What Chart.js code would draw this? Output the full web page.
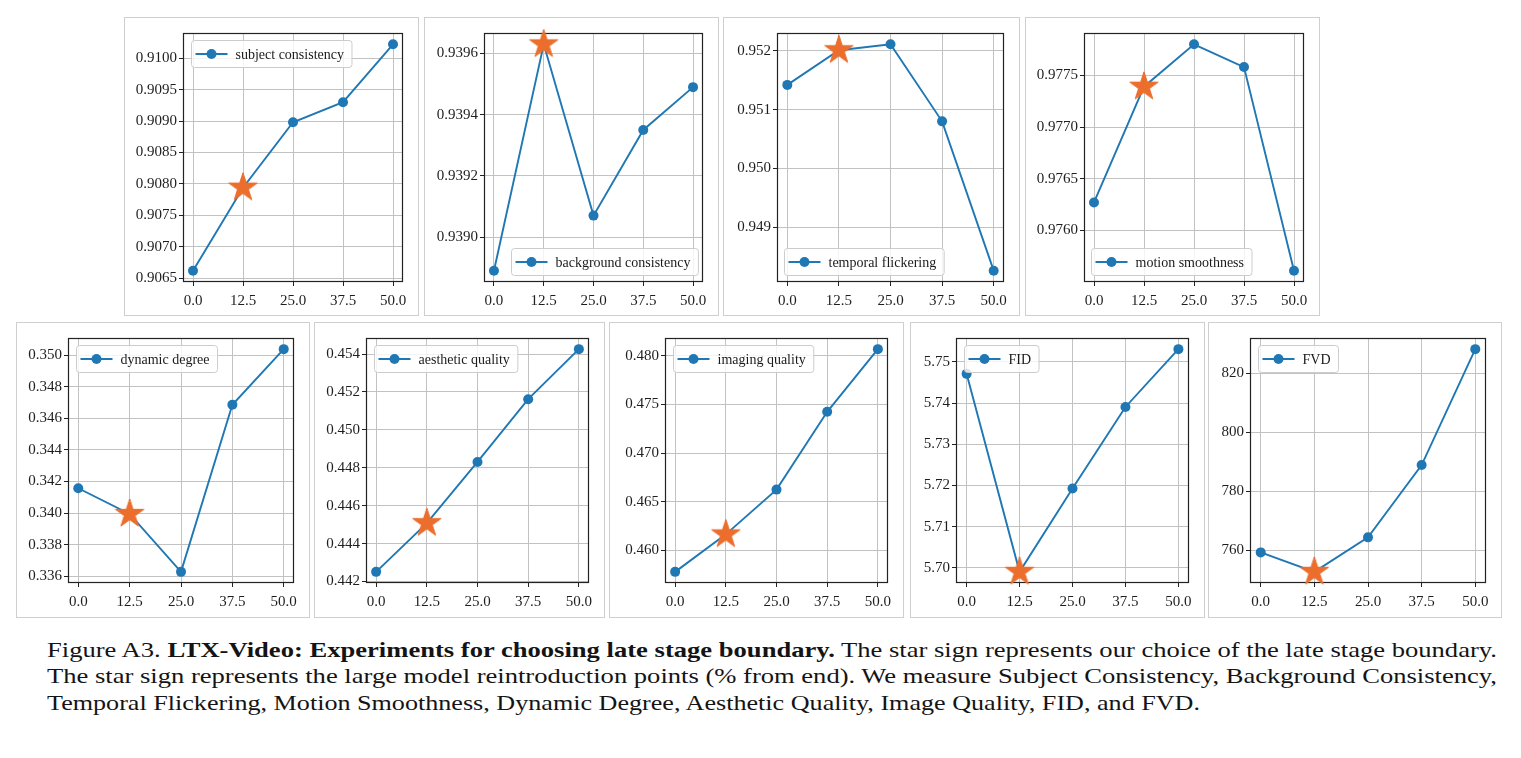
<!DOCTYPE html>
<html><head><meta charset="utf-8">
<script src="https://cdn.jsdelivr.net/npm/chart.js@4.4.0/dist/chart.umd.min.js"></script>
<style>
html,body{margin:0;padding:0;background:#fff;}
body{width:1521px;height:758px;position:relative;overflow:hidden;font-family:"Liberation Serif","Times New Roman",serif;}
.frame{position:absolute;border:1px solid #cfcfcf;box-sizing:border-box;}
canvas.c{position:absolute;}
.ln{position:absolute;left:47px;white-space:nowrap;transform-origin:0 0;font-size:22px;line-height:24px;color:#141414;display:inline-block;}
</style></head>
<body>
<div class="ln" id="l1" style="top:637.5px">Figure A3. <b>LTX-Video: Experiments for choosing late stage boundary.</b> The star sign represents our choice of the late stage boundary.</div>
<div class="ln" id="l2" style="top:664px">The star sign represents the large model reintroduction points (% from end). We measure Subject Consistency, Background Consistency,</div>
<div class="ln" id="l3" style="top:690.5px">Temporal Flickering, Motion Smoothness, Dynamic Degree, Aesthetic Quality, Image Quality, FID, and FVD.</div>
<script>
// ---- data ----
const xValues = [0, 12.5, 25, 37.5, 50];
const xTickLabels = ['0.0', '12.5', '25.0', '37.5', '50.0'];
const starX = 12.5;

const subjectConsistency    = [0.90662, 0.90794, 0.90898, 0.90930, 0.91022];
const backgroundConsistency = [0.93889, 0.93963, 0.93907, 0.93935, 0.93949];
const temporalFlickering    = [0.95142, 0.95201, 0.95211, 0.95080, 0.94826];
const motionSmoothness      = [0.97627, 0.97739, 0.97780, 0.97758, 0.97561];
const dynamicDegree         = [0.34157, 0.33994, 0.33627, 0.34686, 0.35039];
const aestheticQuality      = [0.44251, 0.44508, 0.44831, 0.45162, 0.45426];
const imagingQuality        = [0.45779, 0.46164, 0.46624, 0.47423, 0.48067];
const fidValues             = [5.74708, 5.69905, 5.71929, 5.73905, 5.75308];
const fvdValues             = [759.3, 752.7, 764.4, 788.9, 828.2];

const yTicksSubject    = ['0.9065','0.9070','0.9075','0.9080','0.9085','0.9090','0.9095','0.9100'];
const yTicksBackground = ['0.9390','0.9392','0.9394','0.9396'];
const yTicksTemporal   = ['0.949','0.950','0.951','0.952'];
const yTicksMotion     = ['0.9760','0.9765','0.9770','0.9775'];
const yTicksDynamic    = ['0.336','0.338','0.340','0.342','0.344','0.346','0.348','0.350'];
const yTicksAesthetic  = ['0.442','0.444','0.446','0.448','0.450','0.452','0.454'];
const yTicksImaging    = ['0.460','0.465','0.470','0.475','0.480'];
const yTicksFID        = ['5.70','5.71','5.72','5.73','5.74','5.75'];
const yTicksFVD        = ['760','780','800','820'];

const seriesNames = ['subject consistency','background consistency','temporal flickering','motion smoothness',
  'dynamic degree','aesthetic quality','imaging quality','FID','FVD'];

// ---- caption fitting ----
(function(){
  const fit = (id, width) => {
    const el = document.getElementById(id);
    el.style.transform = 'scaleX(' + (width / el.getBoundingClientRect().width) + ')';
  };
  fit('l1', 1450); fit('l2', 1450); fit('l3', 1153);
})();

// ---- layout / style ----
const C0 = '#1f77b4';
const STAR = '#eb6e2d';
const GRID = '#c2c2c2';
const panels = [
  {data: subjectConsistency,    ticks: yTicksSubject,    legend:'ul', frame:[124,17,419,316],  plot:[183,30,407,282]},
  {data: backgroundConsistency, ticks: yTicksBackground, legend:'lr', frame:[424,17,719,316],  plot:[484,30,707,282]},
  {data: temporalFlickering,    ticks: yTicksTemporal,   legend:'ll', frame:[723,17,1020,316], plot:[777,30,1008,282]},
  {data: motionSmoothness,      ticks: yTicksMotion,     legend:'ll', frame:[1025,17,1320,316],plot:[1084,30,1308,282]},
  {data: dynamicDegree,         ticks: yTicksDynamic,    legend:'ul', frame:[16,322,310,618],  plot:[68,333,302,583]},
  {data: aestheticQuality,      ticks: yTicksAesthetic,  legend:'ul', frame:[314,322,605,618], plot:[366,333,596,583]},
  {data: imagingQuality,        ticks: yTicksImaging,    legend:'ul', frame:[609,322,904,618], plot:[665,333,897,583]},
  {data: fidValues,             ticks: yTicksFID,        legend:'ul', frame:[910,322,1205,618],plot:[956,333,1193,583]},
  {data: fvdValues,             ticks: yTicksFVD,        legend:'ul', frame:[1208,322,1502,618],plot:[1250,333,1492,583]}
];

function makeStar(R, color){
  const c = document.createElement('canvas');
  const s = Math.ceil(2*R + 2);
  c.width = s; c.height = s;
  const g = c.getContext('2d');
  const cx = s/2, cy = s/2;
  g.beginPath();
  for (let i = 0; i < 10; i++) {
    const r = i % 2 === 0 ? R : R*0.381966;
    const a = -Math.PI/2 + i*Math.PI/5;
    g.lineTo(cx + r*Math.cos(a), cy + r*Math.sin(a));
  }
  g.closePath();
  g.fillStyle = color; g.fill();
  g.strokeStyle = color; g.lineWidth = 1; g.stroke();
  return c;
}
const starImg = makeStar(15, STAR);

const mplPlugin = {
  id: 'mpl',
  beforeDatasetsDraw(chart) {
    const ctx = chart.ctx, ca = chart.chartArea;
    ctx.save();
    ctx.strokeStyle = '#222'; ctx.lineWidth = 1.2;
    ctx.strokeRect(Math.round(ca.left)+0.5, Math.round(ca.top)+0.5, Math.round(ca.right-ca.left)-1, Math.round(ca.bottom-ca.top)-1);
    ctx.restore();
  },
  afterDraw(chart, args, opts) {
    const ctx = chart.ctx, ca = chart.chartArea;
    ctx.save();
    ctx.font = '14px "Liberation Serif"';
    const tw = ctx.measureText(opts.text).width;
    const w = 4 + 32 + 8 + tw + 8, h = 27;
    let x, y;
    if (opts.pos === 'ul') { x = ca.left + 8; y = ca.top + 7; }
    else if (opts.pos === 'lr') { x = ca.right - 5 - w; y = ca.bottom - 7 - h; }
    else { x = ca.left + 7; y = ca.bottom - 7 - h; }
    x = Math.round(x) + 0.5; y = Math.round(y) + 0.5;
    ctx.beginPath();
    ctx.roundRect(x, y, w, h, 3);
    ctx.fillStyle = 'rgba(255,255,255,0.8)'; ctx.fill();
    ctx.strokeStyle = '#cccccc'; ctx.lineWidth = 1; ctx.stroke();
    const cy = y + h/2;
    ctx.beginPath(); ctx.moveTo(x+4, cy); ctx.lineTo(x+36, cy);
    ctx.strokeStyle = C0; ctx.lineWidth = 1.8; ctx.stroke();
    ctx.beginPath(); ctx.arc(x+20, cy, 5, 0, Math.PI*2); ctx.fillStyle = C0; ctx.fill();
    ctx.fillStyle = '#1a1a1a'; ctx.textBaseline = 'middle';
    ctx.fillText(opts.text, x + 44, cy + 1);
    ctx.restore();
  }
};

panels.forEach((p, k) => {
  const [fl, ft, fr, fb] = p.frame;
  const [pl, pt, pr, pb] = p.plot;
  const fd = document.createElement('div');
  fd.className = 'frame';
  Object.assign(fd.style, {left: fl+'px', top: ft+'px', width: (fr-fl)+'px', height: (fb-ft)+'px'});
  document.body.appendChild(fd);
  const cv = document.createElement('canvas');
  cv.className = 'c';
  cv.width = fr - fl; cv.height = fb - ft;
  Object.assign(cv.style, {left: fl+'px', top: ft+'px', width: (fr-fl)+'px', height: (fb-ft)+'px'});
  document.body.appendChild(cv);

  const tickVals = p.ticks.map(Number);
  const dmin = Math.min(...p.data), dmax = Math.max(...p.data);
  const m = (dmax - dmin) * 0.05;
  const font = {family: '"Liberation Serif", "Times New Roman", serif', size: 15};

  new Chart(cv.getContext('2d'), {
    type: 'line',
    data: {
      datasets: [
        {
          data: [{x: starX, y: p.data[xValues.indexOf(starX)]}],
          showLine: false, pointStyle: starImg, pointRadius: 15, pointHoverRadius: 15,
          clip: false, order: 0
        },
        {
          data: xValues.map((x, i) => ({x: x, y: p.data[i]})),
          borderColor: C0, backgroundColor: C0, borderWidth: 1.9,
          pointRadius: 5, pointHoverRadius: 5, pointBorderWidth: 0, pointBackgroundColor: C0,
          tension: 0, order: 1
        }
      ]
    },
    options: {
      responsive: false, animation: false, devicePixelRatio: 1, events: [],
      layout: {padding: {left: 0, top: pt - ft, right: fr - pr, bottom: 0}},
      plugins: {legend: {display: false}, tooltip: {enabled: false}, mpl: {text: seriesNames[k], pos: p.legend}},
      scales: {
        x: {
          type: 'linear', min: -2.5, max: 52.5,
          afterBuildTicks: s => { s.ticks = xValues.map(v => ({value: v})); },
          afterFit: s => { s.height = fb - pb; },
          ticks: {callback: (v, i) => xTickLabels[i], font: font, color: '#1e1e1e', padding: 6, maxRotation: 0, autoSkip: false},
          grid: {color: GRID, lineWidth: 1, tickColor: '#222', tickLength: 4, drawTicks: true},
          border: {display: false}
        },
        y: {
          type: 'linear', min: dmin - m, max: dmax + m,
          afterBuildTicks: s => { s.ticks = tickVals.map(v => ({value: v})); },
          afterFit: s => { s.width = pl - fl; },
          ticks: {callback: (v, i) => p.ticks[i], font: font, color: '#1e1e1e', padding: 2, autoSkip: false},
          grid: {color: GRID, lineWidth: 1, tickColor: '#222', tickLength: 4, drawTicks: true},
          border: {display: false}
        }
      }
    },
    plugins: [mplPlugin]
  });
});
</script>
</body></html>
